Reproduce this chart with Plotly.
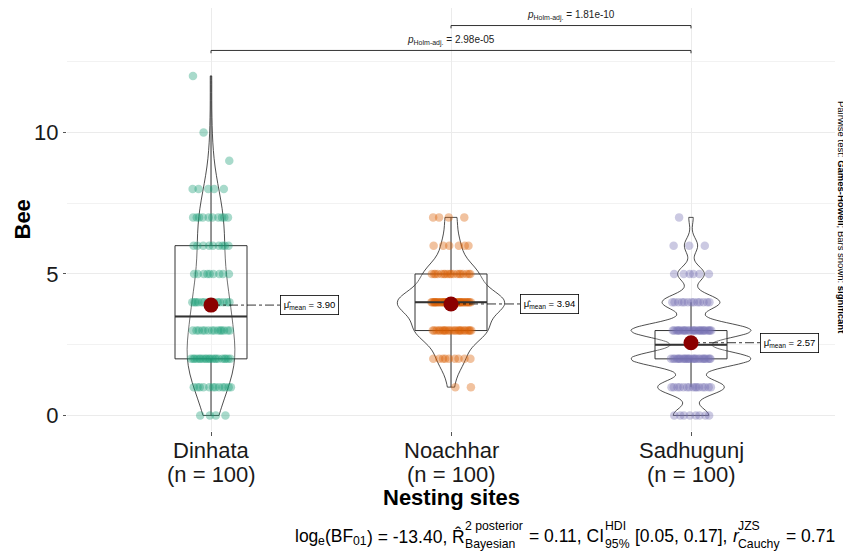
import numpy as np
import plotly.graph_objects as go

# ---------------- data ----------------
categories = ["Dinhata", "Noachhar", "Sadhugunj"]
n_labels = ["(n = 100)", "(n = 100)", "(n = 100)"]

dinhata_levels = [0, 1, 2, 3, 4, 5, 6, 7, 8, 9, 10, 12]
dinhata_counts = [4, 12, 20, 14, 14, 9, 9, 10, 5, 1, 1, 1]

noachhar_levels = [1, 2, 3, 4, 5, 6, 7]
noachhar_counts = [2, 9, 24, 37, 18, 6, 4]

sadhugunj_levels = [0, 1, 2, 3, 4, 5, 6, 7]
sadhugunj_counts = [8, 15, 27, 27, 13, 6, 3, 1]

pair_groups = [(2, 3), (1, 3)]
pair_pvalues = ["1.81e-10", "2.98e-05"]
pair_bracket_y = [13.78, 12.9]

x_title = "Nesting sites"
y_title = "Bee"
# caption pieces: (kind, text); "stack" = superscript over subscript
caption_parts = [
    ("main", "log"), ("sub", "e"), ("main", "(BF"), ("sub", "01"),
    ("main", ") = -13.40, R\u0302"), ("stack", ("2 posterior", "Bayesian")),
    ("main", " = 0.11, CI"), ("stack", ("HDI", "95%")),
    ("main", " [0.05, 0.17], "), ("ital", "r"), ("stack", ("JZS", "Cauchy")),
    ("main", " = 0.71"),
]
side_note = "Pairwise test: <b>Games-Howell</b>; Bars shown: <b>significant</b>"

colors = ["#1B9E77", "#D95F02", "#7570B3"]
FONT = "Liberation Sans, Arial, sans-serif"

groups = [
    np.repeat(dinhata_levels, dinhata_counts).astype(float),
    np.repeat(noachhar_levels, noachhar_counts).astype(float),
    np.repeat(sadhugunj_levels, sadhugunj_counts).astype(float),
]

# ---------------- layout geometry ----------------
FIG_W, FIG_H = 843, 546
M_L, M_R, M_T, M_B = 59, 16, 0, 123
PLOT_W = FIG_W - M_L - M_R
PLOT_H = FIG_H - M_T - M_B
PAGE_OFF = 8  # page margin of the html body


def px_to_paper_x(vx):
    return (vx - PAGE_OFF - M_L) / PLOT_W


def px_to_paper_y(vy):
    return (M_T + PLOT_H - (vy - PAGE_OFF)) / PLOT_H


# Arial / Liberation Sans advance widths (per 1000 em)
ADV = {' ': 278, '(': 333, ')': 333, '[': 278, ']': 278, ',': 278, '.': 278,
       '-': 333, '=': 584, '%': 889, 'B': 667, 'F': 611, 'C': 722, 'I': 278,
       'R': 722, 'H': 722, 'D': 722, 'J': 500, 'Z': 611, 'S': 667, 'a': 556,
       'c': 500, 'e': 556, 'g': 556, 'h': 556, 'i': 222, 'l': 222, 'n': 556,
       'o': 556, 'p': 556, 'r': 333, 's': 500, 't': 278, 'u': 556, 'y': 500,
       '\u0302': 0}


def text_w(s, size):
    return sum(ADV.get(ch, 556) for ch in s) / 1000.0 * size


def nrd0(x):
    sd = np.std(x, ddof=1)
    iqr = np.subtract(*np.percentile(x, [75, 25]))
    lo = min(sd, iqr / 1.34) if iqr > 0 else sd
    return 0.9 * lo * len(x) ** -0.2


def kde_max(x, bw):
    grid = np.linspace(x.min(), x.max(), 512)
    d = np.exp(-0.5 * ((grid[:, None] - x[None, :]) / bw) ** 2).sum(axis=1)
    return (d / (len(x) * bw * np.sqrt(2 * np.pi))).max()


def spread_offsets(vals, half=0.085):
    # deterministic horizontal spread for points that share a value
    offs = np.zeros(len(vals))
    seen = {}
    for i, v in enumerate(vals):
        j = seen.get(v, 0)
        seen[v] = j + 1
        frac = ((j + 1) * 0.6180339887 + v * 0.37) % 1.0
        offs[i] = (frac - 0.5) * 2 * half
    return offs


bws = [nrd0(v) for v in groups]
peaks = [kde_max(v, b) for v, b in zip(groups, bws)]
vwidths = [0.5 * p / max(peaks) for p in peaks]   # ggplot "area" scaling

fig = go.Figure()

# points
for k, vals in enumerate(groups):
    pos = k + 1
    fig.add_trace(go.Scatter(
        x=pos + spread_offsets(vals), y=vals, mode="markers",
        marker=dict(color=colors[k], size=8.5, opacity=0.38, line=dict(width=0)),
        hoverinfo="skip"))

# boxes
for k, vals in enumerate(groups):
    pos = k + 1
    fig.add_trace(go.Box(
        x=[pos] * len(vals), y=vals, width=0.3, whiskerwidth=0,
        boxpoints="outliers", marker=dict(size=0, opacity=0),
        fillcolor="rgba(255,255,255,0.2)", line=dict(color="#333333", width=1),
        hoverinfo="skip"))
    med = float(np.median(vals))
    fig.add_trace(go.Scatter(
        x=[pos - 0.15, pos + 0.15], y=[med, med], mode="lines",
        line=dict(color="#333333", width=2), hoverinfo="skip"))

# violins
for k, vals in enumerate(groups):
    pos = k + 1
    fig.add_trace(go.Violin(
        x=[pos] * len(vals), y=vals, width=vwidths[k], scalemode="width",
        spanmode="hard", bandwidth=bws[k],
        points=False, fillcolor="rgba(255,255,255,0.2)",
        line=dict(color="#222222", width=0.8), hoverinfo="skip"))

annotations = []
# means
for k, vals in enumerate(groups):
    pos = k + 1
    m = float(np.mean(vals))
    fig.add_trace(go.Scatter(
        x=[pos, pos + 0.2875], y=[m, m], mode="lines",
        line=dict(color="black", width=0.8, dash="dashdot"), hoverinfo="skip"))
    fig.add_trace(go.Scatter(
        x=[pos], y=[m], mode="markers",
        marker=dict(color="#8B0000", size=15, line=dict(width=0)), hoverinfo="skip"))
    annotations.append(dict(
        x=pos + 0.2875, y=m, xref="x", yref="y", xanchor="left", yanchor="middle",
        text=f"\u03bc\u0302<sub>mean</sub> = {m:.2f}", showarrow=False,
        font=dict(size=9.5, color="black", family=FONT),
        bgcolor="white", bordercolor="black", borderwidth=0.8, borderpad=3))

# significance brackets
for (a, b), p, yb in zip(pair_groups, pair_pvalues, pair_bracket_y):
    fig.add_trace(go.Scatter(
        x=[a, a, b, b], y=[yb - 0.1, yb, yb, yb - 0.1], mode="lines",
        line=dict(color="#333333", width=1), hoverinfo="skip"))
    annotations.append(dict(
        x=(a + b) / 2, y=yb + 0.36, xref="x", yref="y", showarrow=False,
        xanchor="center", yanchor="middle",
        text=f"<i>p</i><sub>Holm-adj.</sub> = {p}",
        font=dict(size=10, color="#222222", family=FONT)))

# category labels
for k, (c, n) in enumerate(zip(categories, n_labels)):
    annotations.append(dict(x=k + 1, y=px_to_paper_y(450), xref="x", yref="paper",
                            showarrow=False, xanchor="center", yanchor="middle", text=c,
                            font=dict(size=22, color="#1a1a1a", family=FONT)))
    annotations.append(dict(x=k + 1, y=px_to_paper_y(475), xref="x", yref="paper",
                            showarrow=False, xanchor="center", yanchor="middle", text=n,
                            font=dict(size=22, color="#1a1a1a", family=FONT)))

# axis titles, side note
annotations += [
    dict(x=0.5, y=px_to_paper_y(497), xref="paper", yref="paper", showarrow=False,
         xanchor="center", yanchor="middle",
         text=f"<b>{x_title}</b>", font=dict(size=22, color="black", family=FONT)),
    dict(x=px_to_paper_x(22), y=0.5, xref="paper", yref="paper", showarrow=False,
         textangle=-90, xanchor="center", yanchor="middle",
         text=f"<b>{y_title}</b>", font=dict(size=22, color="black", family=FONT)),
    dict(x=px_to_paper_x(842), y=px_to_paper_y(217), xref="paper", yref="paper",
         showarrow=False, textangle=90, xanchor="center", yanchor="middle",
         text=side_note, font=dict(size=9.5, color="black", family=FONT)),
]

# caption (plotmath-like, stacked super/subscripts)
CAP_MAIN, CAP_SMALL = 17.5, 12.25
CAP_RIGHT = 835
Y_MAIN, Y_SUP, Y_SUB, Y_ISUB = 536, 525.5, 543.5, 541


def part_width(kind, txt):
    if kind in ("main", "ital"):
        return text_w(txt, CAP_MAIN)
    if kind == "sub":
        return text_w(txt, CAP_SMALL)
    return max(text_w(txt[0], CAP_SMALL), text_w(txt[1], CAP_SMALL)) + 1


total_w = sum(part_width(k, t) for k, t in caption_parts)
cx = CAP_RIGHT - total_w


def cap_ann(x, y, txt, size):
    return dict(x=px_to_paper_x(x), y=px_to_paper_y(y), xref="paper", yref="paper",
                xanchor="left", yanchor="middle", showarrow=False, text=txt,
                borderpad=0, borderwidth=0,
                font=dict(size=size, color="black", family=FONT))


for kind, txt in caption_parts:
    w = part_width(kind, txt)
    if kind in ("main", "ital"):
        lead = len(txt) - len(txt.lstrip(" "))
        s = txt.strip(" ")
        if kind == "ital":
            s = f"<i>{s}</i>"
        annotations.append(cap_ann(cx + text_w(" " * lead, CAP_MAIN), Y_MAIN, s, CAP_MAIN))
    elif kind == "sub":
        annotations.append(cap_ann(cx, Y_ISUB, txt, CAP_SMALL))
    else:
        annotations.append(cap_ann(cx, Y_SUP, txt[0], CAP_SMALL))
        annotations.append(cap_ann(cx, Y_SUB, txt[1], CAP_SMALL))
    cx += w

fig.update_layout(
    width=FIG_W, height=FIG_H,
    margin=dict(l=M_L, r=M_R, t=M_T, b=M_B),
    plot_bgcolor="white", paper_bgcolor="white",
    showlegend=False, boxmode="overlay", violinmode="overlay",
    font=dict(family=FONT, color="black"),
    annotations=annotations,
    xaxis=dict(
        range=[0.4, 3.6], tickmode="array", tickvals=[1, 2, 3],
        showticklabels=False,
        showgrid=True, gridcolor="#EBEBEB", gridwidth=1, zeroline=False,
        ticks="outside", ticklen=4, tickcolor="#555555", showline=False),
    yaxis=dict(
        range=[-0.55, 14.4], tickmode="array", tickvals=[0, 5, 10],
        tickfont=dict(size=22, color="#1a1a1a", family=FONT),
        showgrid=True, gridcolor="#EBEBEB", gridwidth=1, zeroline=False,
        ticks="outside", ticklen=3, tickcolor="#555555", showline=False,
        minor=dict(tickvals=[2.5, 7.5, 12.5], showgrid=True,
                   gridcolor="#F2F2F2", gridwidth=1, ticks="")),
)

fig.write_html("out.html")
